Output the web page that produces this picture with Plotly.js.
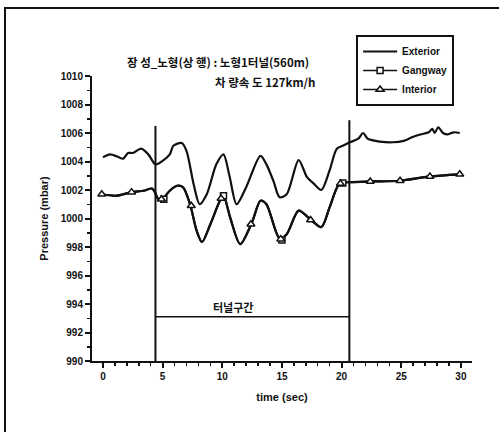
<!DOCTYPE html>
<html>
<head>
<meta charset="utf-8">
<script src="https://cdn.plot.ly/plotly-3.0.1.min.js"></script>
<style>
html,body{margin:0;padding:0;background:#fff;}
#wrap{position:relative;width:499px;height:432px;}
#chart{width:499px;height:432px;}
#frame{position:absolute;left:4px;top:7px;right:0;bottom:0;border-top:2px solid #111;border-left:2px solid #111;pointer-events:none;}
</style>
</head>
<body>
<div id="wrap"><div id="chart"></div><div id="frame"></div></div>
<script>
// ---- data ----
const exteriorTime = [0.0,0.6,1.2,1.7,2.1,2.5,3.2,3.8,4.4,5.0,5.6,5.9,6.6,7.0,7.6,8.1,8.7,9.5,10.1,10.6,11.2,12.0,13.2,13.7,14.3,14.8,15.4,16.4,17.1,17.6,18.3,19.0,19.6,20.1,20.7,21.4,21.8,22.2,23.2,24.3,25.2,25.9,26.6,27.3,27.6,27.8,28.1,28.5,28.9,29.4,29.9];
const exteriorP = [1004.3,1004.5,1004.35,1004.2,1004.6,1004.6,1004.9,1004.5,1003.8,1004.05,1004.5,1005.1,1005.3,1004.75,1002.4,1001.0,1001.7,1003.8,1004.5,1003.0,1001.0,1002.2,1004.4,1003.8,1002.6,1001.5,1001.7,1004.1,1002.9,1002.5,1002.0,1003.4,1004.9,1005.1,1005.35,1005.6,1006.0,1005.6,1005.4,1005.35,1005.45,1005.7,1005.9,1006.05,1006.3,1006.0,1006.4,1006.0,1005.9,1006.05,1006.0];

const gangwayTime = [-0.1,1.15,2.4,3.4,4.1,4.35,4.6,4.9,5.6,6.2,6.7,7.3,7.85,8.3,9.0,9.8,10.1,10.65,11.5,12.5,13.2,13.7,14.8,15.4,16.4,17.35,18.3,19.0,19.7,20.1,20.7,22.5,24.9,27.4,29.9];
const gangwayP = [1001.7,1001.6,1001.85,1001.95,1002.1,1001.85,1001.4,1001.3,1001.95,1002.3,1002.2,1001.0,999.15,998.35,999.6,1001.25,1001.6,1000.1,998.2,999.75,1001.25,1001.0,998.6,998.9,1000.55,999.97,999.4,1000.8,1002.3,1002.5,1002.55,1002.6,1002.65,1002.95,1003.1];
const gangwayMarkTime = [5.1,10.1,15.0,20.1];
const gangwayMarkP = [1001.35,1001.6,998.5,1002.5];

const interiorTime = [-0.1,1.15,2.4,3.4,4.1,4.35,4.6,4.9,5.6,6.2,6.7,7.3,7.85,8.3,9.0,9.8,10.1,10.65,11.5,12.5,13.2,13.7,14.8,15.4,16.4,17.35,18.3,19.0,19.7,20.1,20.7,22.5,24.9,27.4,29.9];
const interiorP = [1001.7,1001.6,1001.85,1001.95,1002.1,1001.85,1001.4,1001.3,1001.95,1002.3,1002.2,1001.0,999.15,998.35,999.6,1001.25,1001.6,1000.1,998.2,999.75,1001.25,1001.0,998.6,998.9,1000.55,999.97,999.4,1000.8,1002.3,1002.5,1002.55,1002.6,1002.65,1002.95,1003.1];
const interiorMarkTime = [-0.1,2.4,4.9,7.4,9.9,12.4,14.9,17.4,19.9,22.4,24.9,27.4,29.9];
const interiorMarkP = [1001.7,1001.85,1001.35,1000.9,1001.4,999.6,998.55,999.9,1002.45,1002.6,1002.65,1002.95,1003.1];

const tunnelEdges = [4.4, 20.65];
const tunnelLineTop = [1006.5, 1006.9];
const tunnelBarP = 993.1;
const tunnelLabel = '터널구간';
const axisBase = 990;

const titleLine1 = '장 성_노형(상 행) : 노형1터널(560m)';
const titleLine2 = '차 량속 도 127km/h';
const seriesNames = ['Exterior','Gangway','Interior'];

const BOLD = 'Liberation Sans, Arial, sans-serif';
const KR = 'Noto Sans CJK KR, sans-serif';

const traces = [
  {x: exteriorTime, y: exteriorP, mode:'lines', line:{color:'#111', width:2.2, shape:'spline', smoothing:0.8}, showlegend:false, hoverinfo:'skip'},
  {x: gangwayTime, y: gangwayP, mode:'lines', line:{color:'#111', width:2.2, shape:'spline', smoothing:0.8}, showlegend:false, hoverinfo:'skip'},
  {x: interiorTime, y: interiorP, mode:'lines', line:{color:'#111', width:2.2, shape:'spline', smoothing:0.8}, showlegend:false, hoverinfo:'skip'},
  {x: gangwayMarkTime, y: gangwayMarkP, mode:'markers', marker:{symbol:'square', size:6, color:'#fff', line:{color:'#111', width:1.5}}, showlegend:false},
  {x: interiorMarkTime, y: interiorMarkP, mode:'markers', marker:{symbol:'triangle-up', size:7, color:'#fff', line:{color:'#111', width:1.5}}, showlegend:false},
  // tunnel section lines
  {x: [tunnelEdges[0], tunnelEdges[0]], y: [axisBase, tunnelLineTop[0]], mode:'lines', line:{color:'#111', width:2}, showlegend:false},
  {x: [tunnelEdges[1], tunnelEdges[1]], y: [axisBase, tunnelLineTop[1]], mode:'lines', line:{color:'#111', width:2}, showlegend:false},
  {x: tunnelEdges, y: [tunnelBarP, tunnelBarP], mode:'lines', line:{color:'#111', width:1.5}, showlegend:false},
  // legend entries
  {x:[null], y:[null], name: seriesNames[0], mode:'lines', line:{color:'#111', width:2}},
  {x:[null], y:[null], name: seriesNames[1], mode:'lines+markers', line:{color:'#111', width:1.5}, marker:{symbol:'square', size:6, color:'#fff', line:{color:'#111', width:1.5}}},
  {x:[null], y:[null], name: seriesNames[2], mode:'lines+markers', line:{color:'#111', width:1.5}, marker:{symbol:'triangle-up', size:7, color:'#fff', line:{color:'#111', width:1.5}}}
];

const layout = {
  width: 499, height: 432,
  margin: {l:92, r:27, t:76, b:71},
  paper_bgcolor:'#fff', plot_bgcolor:'#fff',
  showlegend: true,
  legend: {x:0.695, xanchor:'left', y:1.144, yanchor:'top', bgcolor:'#fff', bordercolor:'#111', borderwidth:2,
           font:{family:BOLD, size:10, color:'#111', weight:'bold'}, tracegroupgap:0, itemwidth:34},
  xaxis: {range:[-0.92, 30.93], showgrid:false, zeroline:false, showline:true, linecolor:'#111', linewidth:2,
          ticks:'outside', ticklen:5, tickwidth:2, tickcolor:'#111', dtick:5, tick0:0,
          minor:{dtick:1, ticks:'outside', ticklen:3, tickwidth:1.5, tickcolor:'#111', showgrid:false},
          tickfont:{family:BOLD, size:10, color:'#111', weight:'bold'},
          title:{text:'time (sec)', font:{family:BOLD, size:11, color:'#111', weight:'bold'}, standoff:12}},
  yaxis: {range:[990, 1010], showgrid:false, zeroline:false, showline:true, linecolor:'#111', linewidth:2,
          ticks:'outside', ticklen:5, tickwidth:2, tickcolor:'#111', dtick:2, tick0:990,
          minor:{dtick:1, ticks:'outside', ticklen:3, tickwidth:1.5, tickcolor:'#111', showgrid:false},
          tickfont:{family:BOLD, size:10, color:'#111', weight:'bold'},
          title:{text:'Pressure (mbar)', font:{family:BOLD, size:11, color:'#111', weight:'bold'}, standoff:10}},
  annotations: [
    {xref:'paper', yref:'paper', x:(218-92)/380, y:(361-62)/285, text:titleLine1, showarrow:false, xanchor:'center', yanchor:'middle',
     font:{family:KR, size:11.5, color:'#111', weight:'bold'}},
    {xref:'paper', yref:'paper', x:(265-92)/380, y:(361-82)/285, text:titleLine2, showarrow:false, xanchor:'center', yanchor:'middle',
     font:{family:KR, size:11.5, color:'#111', weight:'bold'}},
    {xref:'x', yref:'y', x:10.9, y:tunnelBarP, text:tunnelLabel, showarrow:false, xanchor:'center', yanchor:'bottom', yshift:0,
     font:{family:KR, size:11, color:'#111', weight:'bold'}}
  ]
};

Plotly.newPlot('chart', traces, layout, {displayModeBar:false, staticPlot:true});
</script>
</body>
</html>
